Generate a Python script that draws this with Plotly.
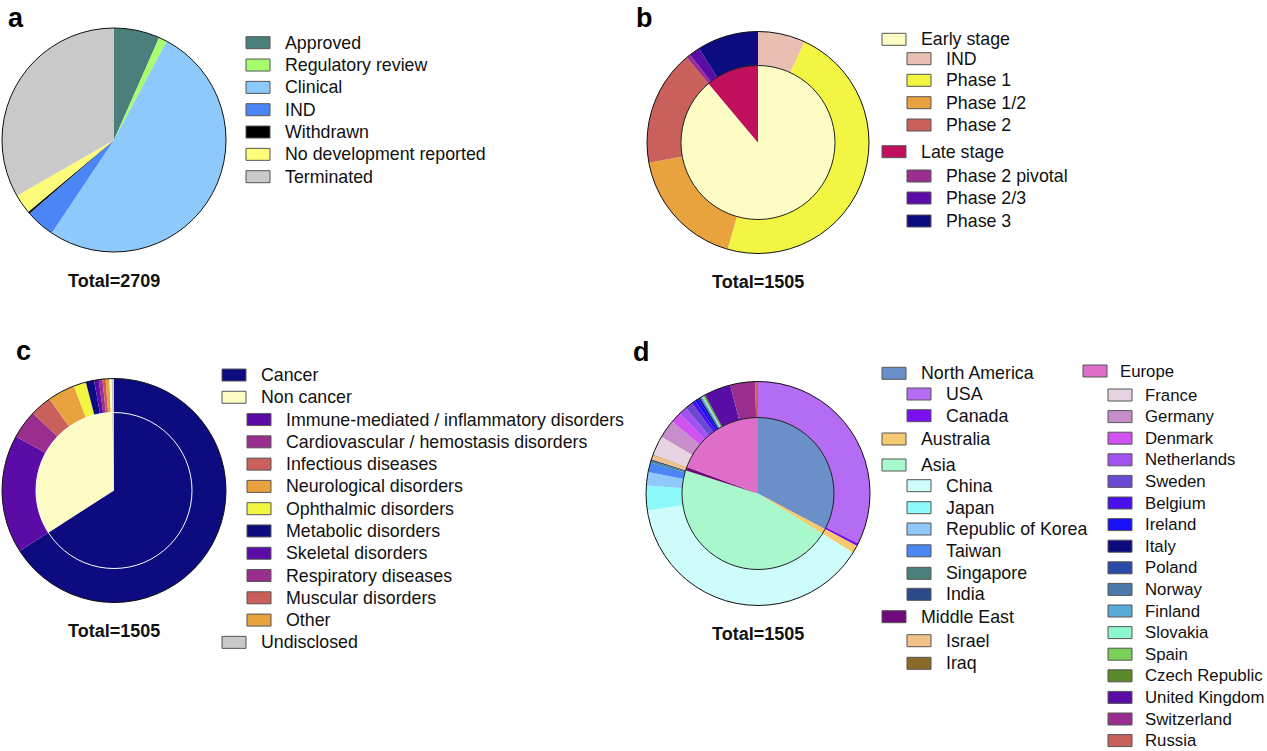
import plotly.graph_objects as go

W, H = 1267, 751
FONT = "Liberation Sans, Arial, Helvetica, sans-serif"

# ---------------- Data ----------------
# Panel a
a_labels = ["Approved", "Regulatory review", "Clinical", "IND", "Withdrawn",
            "No development reported", "Terminated"]
a_values = [179, 32, 1398, 114, 8, 76, 902]
a_colors = ["#4a7f7c", "#a8fd6c", "#8ec9fb", "#4a86f5", "#000000", "#fdfc7a", "#c9c9c9"]
a_total = "Total=2709"

# Panel b
b_inner_labels = ["Early stage", "Late stage"]
b_inner_values = [1338, 167]
b_inner_colors = ["#fcfcc4", "#c0105e"]
b_outer_labels = ["IND", "Phase 1", "Phase 1/2", "Phase 2",
                  "Phase 2 pivotal", "Phase 2/3", "Phase 3"]
b_outer_values = [104, 715, 266, 253, 9, 24, 134]
b_outer_colors = ["#e8bfb0", "#f2f542", "#e8a33e", "#c9605c", "#9a2e8e", "#5c0ca6", "#0c0c80"]
b_total = "Total=1505"
b_legend_labels = ["Early stage", "IND", "Phase 1", "Phase 1/2", "Phase 2",
                   "Late stage", "Phase 2 pivotal", "Phase 2/3", "Phase 3"]
b_legend_colors = ["#fcfcc4", "#e8bfb0", "#f2f542", "#e8a33e", "#c9605c",
                   "#c0105e", "#9a2e8e", "#5c0ca6", "#0c0c80"]
b_legend_level = [0, 1, 1, 1, 1, 0, 1, 1, 1]

# Panel c
c_inner_labels = ["Cancer", "Non cancer", "Undisclosed"]
c_inner_values = [992, 508, 5]
c_inner_colors = ["#0c0c80", "#fcfcc4", "#c9c9c9"]
c_outer_labels = ["Cancer", "Immune-mediated / inflammatory disorders",
                  "Cardiovascular / hemostasis disorders", "Infectious diseases",
                  "Neurological disorders", "Ophthalmic disorders", "Metabolic disorders",
                  "Skeletal disorders", "Respiratory diseases", "Muscular disorders", "Other",
                  "Non cancer (unspecified)", "Undisclosed"]
c_outer_values = [992, 257, 62, 47, 59, 27, 18, 10, 8, 7, 8, 5, 5]
c_outer_colors = ["#0c0c80", "#5c0ca6", "#9a2e8e", "#c9605c", "#e8a33e", "#f2f542", "#0c0c80",
                  "#5c0ca6", "#9a2e8e", "#c9605c", "#e8a33e", "#fcfcc4", "#c9c9c9"]
c_total = "Total=1505"
c_legend_labels = ["Cancer", "Non cancer", "Immune-mediated / inflammatory disorders",
                   "Cardiovascular / hemostasis disorders", "Infectious diseases",
                   "Neurological disorders", "Ophthalmic disorders", "Metabolic disorders",
                   "Skeletal disorders", "Respiratory diseases", "Muscular disorders",
                   "Other", "Undisclosed"]
c_legend_colors = ["#0c0c80", "#fcfcc4", "#5c0ca6", "#9a2e8e", "#c9605c", "#e8a33e", "#f2f542",
                   "#0c0c80", "#5c0ca6", "#9a2e8e", "#c9605c", "#e8a33e", "#c9c9c9"]
c_legend_level = [0, 0, 1, 1, 1, 1, 1, 1, 1, 1, 1, 1, 0]

# Panel d
d_inner_labels = ["North America", "Australia", "Asia", "Middle East", "Europe"]
d_inner_values = [493, 17, 693, 11, 291]
d_inner_colors = ["#6b8fc9", "#f5ca70", "#a8f7cd", "#6e0a7a", "#dd6fca"]
d_outer_labels = ["USA", "Canada", "Australia", "China", "Japan", "Republic of Korea", "Taiwan",
                  "Singapore", "India", "Israel", "Iraq", "France", "Germany", "Denmark",
                  "Netherlands", "Sweden", "Belgium", "Ireland", "Italy", "Poland", "Norway",
                  "Finland", "Slovakia", "Spain", "Czech Republic", "United Kingdom",
                  "Switzerland", "Russia"]
d_outer_values = [487, 6, 17, 582, 54, 29, 21, 4, 3, 10, 1, 42, 40, 23,
                  18, 17, 8, 8, 4, 2, 2, 2, 2, 2, 3, 58, 54, 6]
d_outer_colors = ["#b56cf5", "#7a10f2", "#f5ca70", "#cdfcfa", "#8ef9fb", "#8fc8fb", "#4a87f5",
                  "#4a807c", "#2a4a8a", "#f3c28a", "#8a6a2a", "#e8d3e2", "#c88dcb", "#d052f0",
                  "#a152f0", "#6a4ad2", "#4a10f0", "#1a10f5", "#0c0c80", "#2a4aa8", "#4a7aaa",
                  "#5aaad8", "#8ef8cc", "#7ad058", "#5a8a2a", "#5a0ca6", "#9a2e8e", "#c9605c"]
d_total = "Total=1505"
d_col1_labels = ["North America", "USA", "Canada", "Australia", "Asia", "China", "Japan",
                 "Republic of Korea", "Taiwan", "Singapore", "India", "Middle East", "Israel", "Iraq"]
d_col1_colors = ["#6b8fc9", "#b56cf5", "#7a10f2", "#f5ca70", "#a8f7cd", "#cdfcfa", "#8ef9fb",
                 "#8fc8fb", "#4a87f5", "#4a807c", "#2a4a8a", "#6e0a7a", "#f3c28a", "#8a6a2a"]
d_col1_level = [0, 1, 1, 0, 0, 1, 1, 1, 1, 1, 1, 0, 1, 1]
d_col2_labels = ["Europe", "France", "Germany", "Denmark", "Netherlands", "Sweden", "Belgium",
                 "Ireland", "Italy", "Poland", "Norway", "Finland", "Slovakia", "Spain",
                 "Czech Republic", "United Kingdom", "Switzerland", "Russia"]
d_col2_colors = ["#dd6fca", "#e8d3e2", "#c88dcb", "#d052f0", "#a152f0", "#6a4ad2", "#4a10f0",
                 "#1a10f5", "#0c0c80", "#2a4aa8", "#4a7aaa", "#5aaad8", "#8ef8cc", "#7ad058",
                 "#5a8a2a", "#5a0ca6", "#9a2e8e", "#c9605c"]
d_col2_level = [0] + [1] * 17

# ---------------- Layout helpers ----------------
def px(x):
    return x / W

def py(y):
    return 1 - y / H

def dom(cx, cy, r):
    return dict(x=[px(cx - r), px(cx + r)], y=[py(cy + r), py(cy - r)])

def circle(cx, cy, r, color, width=1):
    return dict(type="circle", xref="paper", yref="paper",
                x0=px(cx - r), x1=px(cx + r), y0=py(cy + r), y1=py(cy - r),
                line=dict(color=color, width=width), fillcolor="rgba(0,0,0,0)", layer="above")

def pie(labels, values, colors, cx, cy, r):
    return go.Pie(labels=labels, values=values, sort=False, direction="clockwise", rotation=0,
                  marker=dict(colors=colors, line=dict(width=0)), textinfo="none",
                  domain=dom(cx, cy, r), showlegend=False)

fig = go.Figure()
shapes = []
annotations = []

# Panel geometry (centre x, centre y, outer r, inner r) in pixels
A = (114, 140, 112)
B = (758, 142.5, 111, 77)
C = (114, 490.5, 112, 78)
D = (758, 493.5, 112, 76)

fig.add_trace(pie(a_labels, a_values, a_colors, A[0], A[1], A[2]))
shapes.append(circle(A[0], A[1], A[2], "#111111"))

fig.add_trace(pie(b_outer_labels, b_outer_values, b_outer_colors, B[0], B[1], B[2]))
fig.add_trace(pie(b_inner_labels, b_inner_values, b_inner_colors, B[0], B[1], B[3]))
shapes.append(circle(B[0], B[1], B[2], "#111111"))
shapes.append(circle(B[0], B[1], B[3], "#222222"))

fig.add_trace(pie(c_outer_labels, c_outer_values, c_outer_colors, C[0], C[1], C[2]))
fig.add_trace(pie(c_inner_labels, c_inner_values, c_inner_colors, C[0], C[1], C[3]))
shapes.append(circle(C[0], C[1], C[2], "#111111"))
shapes.append(circle(C[0], C[1], C[3], "#ffffff"))

fig.add_trace(pie(d_outer_labels, d_outer_values, d_outer_colors, D[0], D[1], D[2]))
fig.add_trace(pie(d_inner_labels, d_inner_values, d_inner_colors, D[0], D[1], D[3]))
shapes.append(circle(D[0], D[1], D[2], "#111111"))
shapes.append(circle(D[0], D[1], D[3], "#222222"))

# Legends (manual)
SW, SH = 24, 12

def legend(labels, colors, levels, rows_y, x0, indent, gap, size=17.8):
    for lab, col, lev, y in zip(labels, colors, levels, rows_y):
        sx = x0 + lev * indent
        shapes.append(dict(type="rect", xref="paper", yref="paper",
                           x0=px(sx), x1=px(sx + SW), y0=py(y + SH / 2), y1=py(y - SH / 2),
                           fillcolor=col, line=dict(color="#555555", width=1), layer="above"))
        annotations.append(dict(text=lab, xref="paper", yref="paper", x=px(sx + SW + gap), y=py(y),
                                xanchor="left", yanchor="middle", showarrow=False,
                                font=dict(family=FONT, size=size, color="#111111")))

legend(a_labels, a_colors, [0] * 7, [42.7 + 22.33 * i for i in range(7)], 246, 0, 13)
legend(b_legend_labels, b_legend_colors, b_legend_level,
       [39.3, 58.7, 80.3, 102.7, 125, 151.7, 176, 198, 221], 882, 25, 13)
legend(c_legend_labels, c_legend_colors, c_legend_level,
       [375 + 22.28 * i for i in range(13)], 222, 25, 13)
legend(d_col1_labels, d_col1_colors, d_col1_level,
       [373.3, 394, 415.7, 439, 465, 485.7, 507.7, 529, 550.8, 573.3, 594.3, 616.7, 640.7, 663.3],
       882, 25, 13)
legend(d_col2_labels, d_col2_colors, d_col2_level,
       [371] + [395 + 21.6 * i for i in range(17)], 1083, 25, 11, size=16.8)

# Totals
for txt, cx, cy in [(a_total, A[0], 281), (b_total, B[0], 281.5), (c_total, C[0], 631), (d_total, D[0], 634)]:
    annotations.append(dict(text="<b>%s</b>" % txt, xref="paper", yref="paper", x=px(cx), y=py(cy),
                            xanchor="center", yanchor="middle", showarrow=False,
                            font=dict(family=FONT, size=18, color="#111111")))

# Panel letters
for letter, lx, ly in [("a", 6, 1), ("b", 634, 1), ("c", 14, 334), ("d", 631, 335)]:
    annotations.append(dict(text="<b>%s</b>" % letter, xref="paper", yref="paper", x=px(lx), y=py(ly),
                            xanchor="left", yanchor="top", showarrow=False,
                            font=dict(family=FONT, size=27, color="#000000")))

fig.update_layout(width=W, height=H, margin=dict(l=0, r=0, t=0, b=0),
                  paper_bgcolor="white", plot_bgcolor="white",
                  shapes=shapes, annotations=annotations, font=dict(family=FONT))

fig.write_html("out.html", config={"displayModeBar": False},
               post_script="document.body.style.margin='0';document.body.style.overflow='hidden';")
